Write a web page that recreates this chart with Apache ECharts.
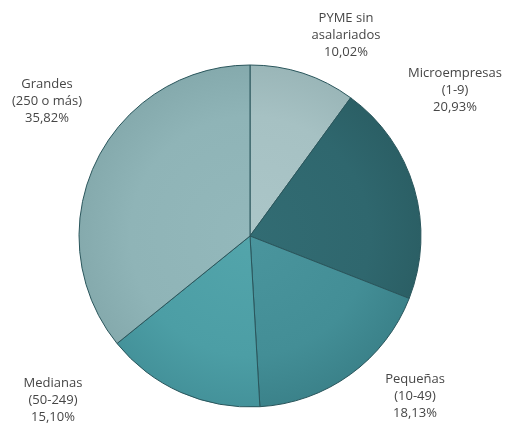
<!DOCTYPE html>
<html>
<head>
<meta charset="utf-8">
<script src="https://cdn.jsdelivr.net/npm/echarts@6/dist/echarts.min.js"></script>
<style>
html,body{margin:0;padding:0;background:#ffffff;}
#chart{width:507px;height:425px;}
</style>
</head>
<body>
<div id="chart"></div>
<script>
// Data
var categories = ['PYME sin\nasalariados', 'Microempresas\n(1-9)', 'Pequeñas\n(10-49)', 'Medianas\n(50-249)', 'Grandes\n(250 o más)'];
var shares = [10.02, 20.93, 18.13, 15.10, 35.82];

// Styles / layout (not data)
var innerColors = ['#abc6c8', '#326c73', '#4a959d', '#53a5ab', '#93b8bb'];
var baseColors  = ['#a6c1c3', '#2f676e', '#438e96', '#4c9ea5', '#8fb4b7'];
var edgeColors  = ['#9ab6b8', '#2b5f65', '#3b828a', '#44929a', '#85aaad'];
var labelPos = [[346, 35], [455, 90], [415, 396], [53, 400], [47, 101]];
var CX = 250, CY = 236, R = 171;

var chart = echarts.init(document.getElementById('chart'));
chart.setOption({
  animation: false,
  backgroundColor: '#ffffff',
  series: [{
    type: 'pie',
    center: [CX, CY],
    radius: [0, R],
    startAngle: 90,
    clockwise: true,
    silent: true,
    data: categories.map(function (c, i) {
      return {
        name: c,
        value: shares[i],
        itemStyle: {
          color: {
            type: 'radial', x: CX, y: CY, r: R, global: true,
            colorStops: [
              {offset: 0, color: innerColors[i]},
              {offset: 0.7, color: baseColors[i]},
              {offset: 1, color: edgeColors[i]}
            ]
          }
        }
      };
    }),
    itemStyle: {borderColor: '#2a565c', borderWidth: 1},
    label: {
      show: true,
      formatter: function (p) {
        return p.name + '\n' + p.value.toFixed(2).replace('.', ',') + '%';
      },
      fontFamily: 'Open Sans',
      fontSize: 13,
      lineHeight: 17,
      color: '#464646',
      align: 'center',
      overflow: 'none',
      alignTo: 'none'
    },
    labelLine: {show: false},
    labelLayout: function (params) {
      var p = labelPos[params.dataIndex];
      return {x: p[0], y: p[1], align: 'center', verticalAlign: 'middle'};
    }
  }]
});
</script>
</body>
</html>
